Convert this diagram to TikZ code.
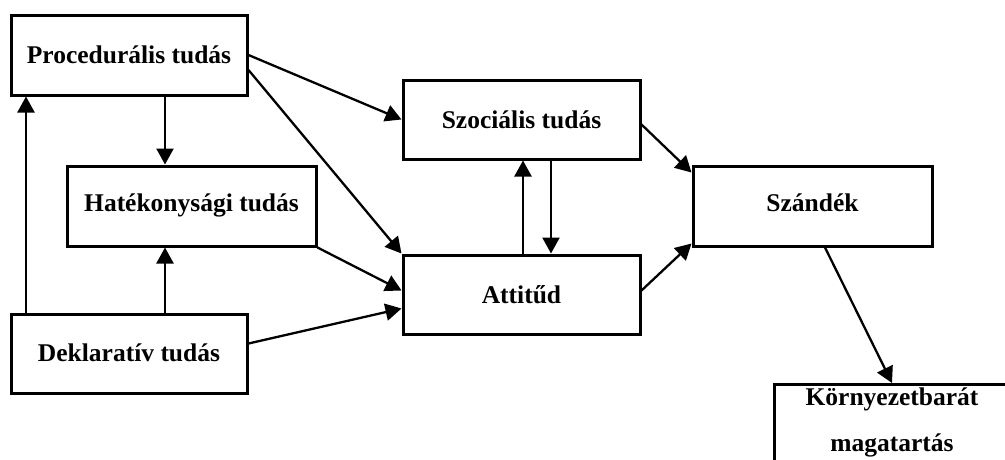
\documentclass[tikz,border=0pt]{standalone}
\usepackage{fontspec}
\setmainfont{Liberation Serif}
\usetikzlibrary{arrows.meta}
\tikzset{
  box/.style={draw=black, line width=3pt, rectangle, inner sep=0pt, font=\bfseries\fontsize{25.5}{30}\selectfont},
  txt/.style={inner sep=0pt, font=\bfseries\fontsize{25.5}{46}\selectfont},
  arr/.style={draw=black, line width=2.3pt, -{Triangle[length=16pt,width=17pt]}},
}
\begin{document}
\begin{tikzpicture}[x=1pt,y=-1pt]
\clip (0,0) rectangle (1005,459);
\fill[white] (0,0) rectangle (1005,459);
\node[box, minimum width=236pt, minimum height=80pt] (proc) at (129,55) {Procedurális tudás};
\node[box, minimum width=249pt, minimum height=80pt] (hat) at (191.5,206) {\raisebox{6pt}{Hatékonysági tudás}};
\node[box, minimum width=236pt, minimum height=79pt] (dek) at (129,353.5) {\raisebox{2pt}{Deklaratív tudás}};
\node[box, minimum width=237pt, minimum height=79pt] (szoc) at (521.5,119.5) {Szociális tudás};
\node[box, minimum width=237pt, minimum height=79pt] (att) at (521.5,294.5) {Attitűd};
\node[box, minimum width=239pt, minimum height=80pt] (szan) at (812.5,206) {\raisebox{6pt}{Szándék}};
\node[box, minimum width=236pt, minimum height=110pt, anchor=north] (korny) at (892,383) {};
\node[txt, align=center] (kornyT) at (892,422) {Környezetbarát\\magatartás};

\draw[arr] ([xshift=36pt]proc.south) -- ([xshift=-26.5pt]hat.north);
\draw[arr] ([xshift=36pt]dek.north) -- ([xshift=-26.5pt]hat.south);
\draw[arr] ([xshift=-103pt]dek.north) -- ([xshift=-103pt]proc.south);
\draw[arr] (proc.east) -- (szoc.west);
\draw[arr] ([yshift=-15pt]proc.east) -- (att.north west);
\draw[arr] (hat.south east) -- ([yshift=4pt]att.west);
\draw[arr] ([yshift=10pt]dek.east) -- ([yshift=-14pt]att.west);
\draw[arr] ([xshift=1.5pt]att.north) -- ([xshift=1.5pt]szoc.south);
\draw[arr] ([xshift=29.5pt]szoc.south) -- ([xshift=29.5pt]att.north);
\draw[arr] ([yshift=-5pt]szoc.east) -- ([yshift=-8pt]szan.north west);
\draw[arr] ([yshift=4pt]att.east) -- ([yshift=4pt]szan.south west);
\draw[arr] ([xshift=12.5pt]szan.south) -- (korny.north);
\end{tikzpicture}
\end{document}
